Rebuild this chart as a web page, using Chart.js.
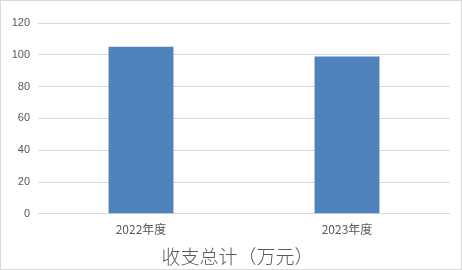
<!DOCTYPE html>
<html>
<head>
<meta charset="utf-8">
<script src="https://cdn.jsdelivr.net/npm/chart.js@4"></script>
<style>
  body { margin: 0; background: #fff; }
  #box { width: 462px; height: 270px; box-sizing: border-box; border: 1px solid #d9d9d9; position: relative; }
</style>
</head>
<body>
<div id="box"><canvas id="shouzhiChart"></canvas></div>
<script>
// Datos
const categorias = ["2022年度", "2023年度"];
const valores = [105, 99];
const ticksY = [0, 20, 40, 60, 80, 100, 120];

// Desplaza un poco el título hacia la derecha, como en el original
const moverTitulo = {
    id: 'moverTitulo',
    afterLayout(chart) {
        if (chart.titleBlock) chart.titleBlock.left += 14;
    }
};

const ctx = document.getElementById('shouzhiChart').getContext('2d');
const shouzhiChart = new Chart(ctx, {
    type: 'bar',
    data: {
        labels: categorias,
        datasets: [{
            data: valores,
            backgroundColor: '#4f81bd',
            barPercentage: 0.63,
            categoryPercentage: 0.5
        }]
    },
    options: {
        responsive: true,
        maintainAspectRatio: false,
        animation: false,
        layout: { padding: { left: 10, right: 11, top: 22, bottom: 0 } },
        plugins: {
            legend: { display: false },
            tooltip: { enabled: false },
            title: {
                display: true,
                position: 'bottom',
                text: '收支总计（万元）',
                color: '#595959',
                font: { family: "'Noto Sans CJK SC'", size: 19, weight: '300' },
                padding: { top: 1, bottom: 1 }
            }
        },
        scales: {
            y: {
                min: 0,
                max: 120,
                afterBuildTicks: (axis) => { axis.ticks = ticksY.map(v => ({ value: v })); },
                afterFit: (axis) => { axis.width = 27; },
                grid: { color: '#d9d9d9', drawTicks: false },
                border: { display: false },
                ticks: {
                    color: '#595959',
                    padding: 8,
                    font: { family: "'Liberation Sans', Arial", size: 11 }
                }
            },
            x: {
                grid: { display: false, drawTicks: false },
                border: { display: false },
                ticks: {
                    color: '#595959',
                    padding: 8,
                    font: { family: "'Noto Sans CJK SC'", size: 12 }
                }
            }
        }
    },
    plugins: [moverTitulo]
});
</script>
</body>
</html>
